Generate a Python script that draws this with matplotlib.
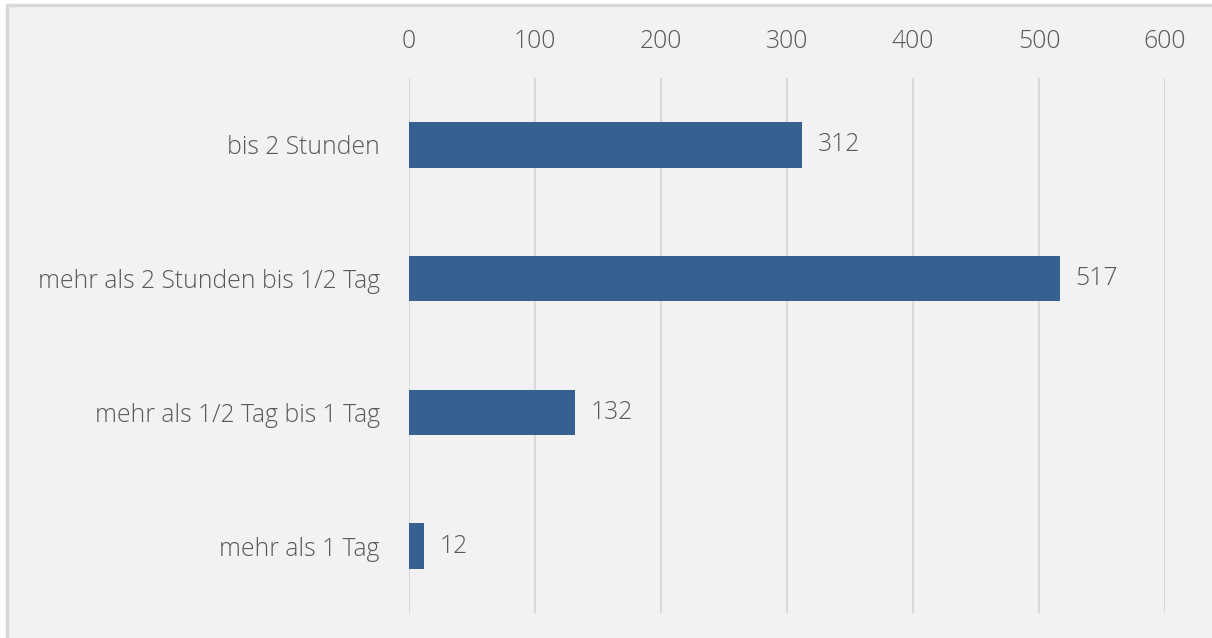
import matplotlib
matplotlib.use("Agg")
import matplotlib.pyplot as plt
from matplotlib.patches import Rectangle

plt.rcParams['font.family'] = ['Open Sans', 'DejaVu Sans']
plt.rcParams['font.weight'] = 'light'

# Dauer-Kategorien und Anzahl
kategorien = ['bis 2 Stunden', 'mehr als 2 Stunden bis 1/2 Tag',
              'mehr als 1/2 Tag bis 1 Tag', 'mehr als 1 Tag']
anzahl = [312, 517, 132, 12]
x_ticks = [0, 100, 200, 300, 400, 500, 600]

bg = '#f2f2f2'
text_col = '#595959'
fs = 17.8

fig = plt.figure(figsize=(12.12, 6.38), dpi=100, facecolor='white')
# Rahmen um das Diagramm (rechts und unten abgeschnitten)
fig.patches.append(Rectangle((7 / 1212, -0.05), 1.0, 1.05 - 5 / 638,
                             transform=fig.transFigure, facecolor=bg,
                             edgecolor='#d9d9d9', linewidth=2.5, zorder=-10))

ax = fig.add_axes([409 / 1212, 1 - 613 / 638, 756 / 1212, 535 / 638])
ax.set_facecolor('none')

y = list(range(len(kategorien)))
ax.barh(y, anzahl, height=0.34, color='#35608f', zorder=3)

for yi, v in zip(y, anzahl):
    ax.annotate(str(v), (v, yi), xytext=(11, 0), textcoords='offset points',
                va='center', ha='left', fontsize=fs, color=text_col)

ax.set_xlim(0, 600)
ax.set_ylim(len(kategorien) - 0.5, -0.5)
ax.set_xticks(x_ticks)
ax.set_yticks(y)
ax.set_yticklabels(kategorien)
ax.xaxis.tick_top()
ax.tick_params(axis='x', length=0, pad=17, labelsize=fs, labelcolor=text_col)
ax.tick_params(axis='y', length=0, pad=21, labelsize=fs, labelcolor=text_col)
ax.grid(axis='x', color='#d9d9d9', linewidth=1.5, zorder=0)
for s in ax.spines.values():
    s.set_visible(False)

fig.savefig('out.png', dpi=100, facecolor=fig.get_facecolor())
